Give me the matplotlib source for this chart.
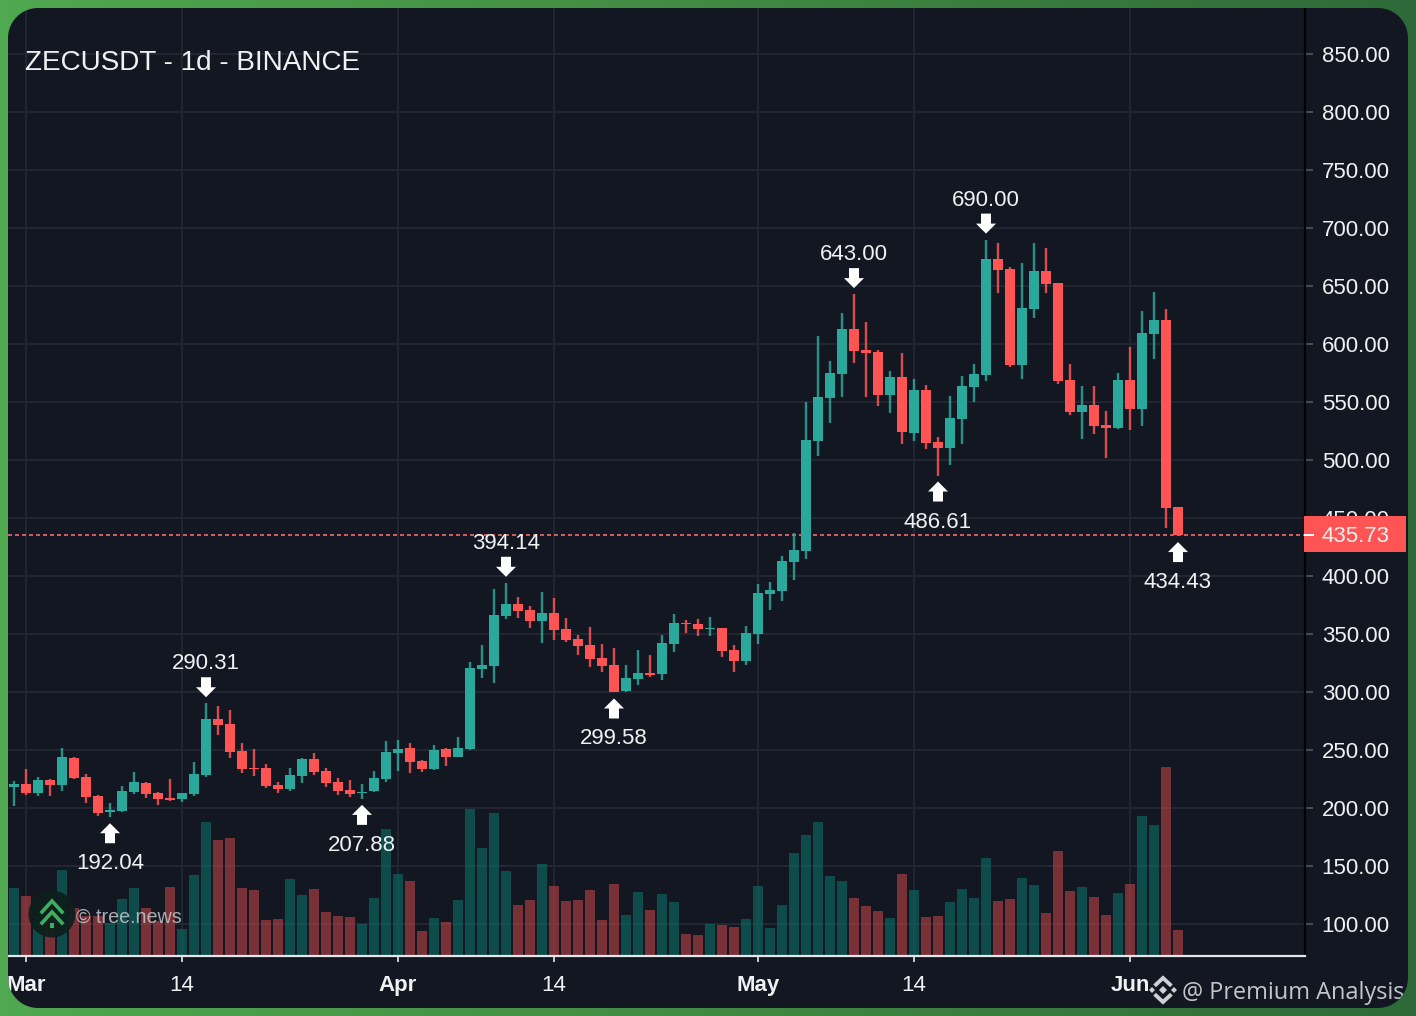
import numpy as np
import matplotlib
matplotlib.use("Agg")
import matplotlib.pyplot as plt
from matplotlib.path import Path
from matplotlib.patches import PathPatch, Rectangle, Circle, Polygon
from matplotlib.transforms import Affine2D, blended_transform_factory
from matplotlib.colors import LinearSegmentedColormap

plt.rcParams['font.family'] = ['Liberation Sans', 'DejaVu Sans']

TITLE = "ZECUSDT - 1d - BINANCE"
opens = [218.4,220.4,212.6,224.1,219.5,242.8,226.7,210.3,196.3,197.1,213.5,221.8,212.6,208.3,207.5,212.1,228.4,276.4,272.1,249.2,
         234.5,234.2,219.8,216.1,227.9,242.0,231.9,222.1,215.2,213.2,214.7,225.0,247.7,251.5,240.2,233.6,250.6,244.3,250.9,319.8,
         322.4,365.5,375.9,370.4,361.2,368.1,354.3,345.7,340.2,329.3,323.3,300.6,311.2,316.7,315.5,341.4,359.8,358.6,354.3,354.9,
         335.9,326.7,350.0,384.5,387.1,412.1,421.8,516.7,553.4,574.1,612.9,594.5,593.1,556.0,571.5,523.3,560.3,515.5,510.3,535.3,
         562.9,573.3,673.3,664.7,582.2,630.2,662.7,652.6,569.0,541.4,547.1,529.9,527.6,568.7,544.0,608.6,620.7,459.2]
highs = [223.6,233.3,226.4,224.7,251.5,244.0,229.3,211.2,204.0,219.0,231.0,222.1,214.1,225.3,213.2,239.7,290.31,288.0,284.8,256.3,
         250.9,237.7,222.7,234.2,242.8,247.1,234.2,225.6,224.1,220.4,232.2,257.8,258.6,256.3,241.4,254.0,251.5,261.0,325.6,340.5,
         389.1,394.14,381.6,374.1,385.9,381.3,363.8,348.9,356.3,341.1,337.9,323.3,336.2,331.9,349.4,367.3,362.1,362.9,364.7,354.9,
         340.2,356.9,392.8,395.1,417.3,436.8,549.7,606.9,585.1,626.4,643.00,618.7,594.8,577.0,592.2,569.8,564.4,520.1,555.2,572.1,
         582.8,690.00,687.4,666.1,669.6,687.4,682.5,652.6,582.8,563.8,563.8,542.2,575.3,597.7,628.7,644.8,630.2,459.2]
lows = [202.0,211.2,210.3,210.3,215.0,225.3,204.0,193.4,192.04,196.5,211.8,208.9,202.3,206.0,205.2,210.3,227.0,263.0,243.1,229.9,
        227.6,217.5,212.6,214.7,221.6,228.4,218.1,210.9,209.2,207.88,213.8,222.1,231.9,229.9,231.0,232.8,235.9,243.7,250.0,312.1,
        307.5,362.7,363.5,354.9,342.0,344.8,342.8,331.9,321.3,317.2,299.58,300.0,305.7,312.6,310.3,334.2,350.6,348.0,348.0,330.2,
        317.2,323.0,341.1,370.7,378.2,396.6,414.6,503.4,531.9,554.0,583.3,554.0,546.8,540.2,513.8,516.1,509.8,486.61,495.4,514.1,
        549.7,567.8,643.7,580.4,569.5,622.4,643.7,565.8,539.1,518.1,522.4,501.4,526.4,525.6,529.6,587.1,441.4,434.43]
closes = [220.7,212.6,224.1,219.8,244.0,226.2,209.5,196.0,198.0,214.4,222.1,212.1,207.8,207.2,212.6,229.0,276.7,271.6,248.6,233.3,
          233.3,219.0,216.4,228.2,242.2,230.8,221.6,214.7,211.8,213.8,225.6,248.0,251.2,239.7,233.9,250.3,244.0,251.5,320.4,323.3,
          366.1,375.9,369.8,361.2,368.1,353.5,344.5,339.7,328.5,322.1,300.0,312.1,316.4,315.0,341.9,359.5,358.3,354.3,355.2,335.6,
          326.7,350.6,385.1,387.9,413.0,422.1,517.0,554.0,575.0,612.9,594.0,592.5,556.0,571.5,524.1,560.3,514.6,510.3,536.2,563.8,
          574.1,673.3,663.8,581.9,630.7,662.7,651.7,567.8,541.4,547.1,529.3,527.6,568.7,544.0,609.5,620.7,458.6,435.73]
volumes = [68,60,40,42,86,48,40,40,33,57,68,48,35,69,27,81,134,116,118,68,
           66,36,37,77,61,67,44,40,39,32,58,127,82,75,25,38,34,56,147,108,
           143,85,51,56,92,70,55,56,66,36,72,41,64,46,62,54,22,21,32,31,
           29,37,70,28,51,103,121,134,80,75,58,50,45,38,82,66,39,40,54,67,
           58,98,55,57,78,71,43,105,65,69,59,41,63,72,140,131,189,26]
price_ticks = [100,150,200,250,300,350,400,450,500,550,600,650,700,750,800,850]
date_ticks = [1,14,32,45,62,75,93]
date_labels = ["Mar","14","Apr","14","May","14","Jun"]
high_marks = [16,41,70,81]
low_marks = [8,29,50,77,97]
last_price = 435.73

BG = "#131722"; GRID = "#232733"; UP = "#2aa89b"; DOWN = "#FF5454"; TXT = "#F0F1F3"
W, H = 1416, 1016
fig = plt.figure(figsize=(W/100, H/100), dpi=100, facecolor=BG)
L, R, T, B = 8, 1305, 8, 956
pos = [L/W, 1-B/H, (R-L)/W, (B-T)/H]
PX = 1.16
xlim = ((L-14)/12, (R-14)/12)
ylim = (850-(B-54)/PX, 850+(54-T)/PX)

ax_grid = fig.add_axes(pos, zorder=0, facecolor=BG)
ax_vol = fig.add_axes(pos, zorder=1, facecolor="none")
ax = fig.add_axes(pos, zorder=2, facecolor="none")
for a in (ax_grid, ax_vol, ax):
    a.set_xlim(*xlim)
ax_grid.set_ylim(*ylim); ax.set_ylim(*ylim); ax_vol.set_ylim(0, B-T)

ax_grid.set_xticks(date_ticks); ax_grid.set_yticks(price_ticks)
ax_grid.grid(True, color=GRID, lw=1.4)
ax_grid.tick_params(length=0, labelbottom=False, labelleft=False)
for s in ax_grid.spines.values(): s.set_visible(False)
ax_vol.axis("off")

x = np.arange(len(opens))
o, h, l, c = map(np.array, (opens, highs, lows, closes))
v = np.array(volumes)
up = c >= o
bw = 10/12
ax_vol.bar(x[up], v[up], width=bw, color="#0b6f68", alpha=0.6, lw=0)
ax_vol.bar(x[~up], v[~up], width=bw, color="#bf4447", alpha=0.6, lw=0)

ax.vlines(x[up], l[up], h[up], color=UP, lw=1.7, alpha=0.85, zorder=3)
ax.vlines(x[~up], l[~up], h[~up], color=DOWN, lw=1.7, alpha=0.85, zorder=3)
ax.bar(x[up], (c-o)[up], bottom=o[up], width=bw, color=UP, lw=0, zorder=4)
ax.bar(x[~up], (o-c)[~up], bottom=c[~up], width=bw, color=DOWN, lw=0, zorder=4)

ax.axhline(last_price, color="#F56A68", lw=1.2, linestyle=(0, (2.4, 1.8)), zorder=2.5)

# axes dressing
ax.yaxis.tick_right()
ax.set_yticks(price_ticks)
ax.set_yticklabels([f"{t:.2f}" for t in price_ticks])
ax.set_xticks(date_ticks)
ax.set_xticklabels(date_labels)
ax.tick_params(axis="y", length=5.8, width=1.4, color="#4a4d55", labelcolor=TXT, labelsize=16, pad=6.2)
ax.tick_params(axis="x", length=4.5, width=1.3, color="#d8dade", labelcolor=TXT, labelsize=16, pad=9.4)
for lab, t in zip(ax.get_xticklabels(), date_labels):
    if not t.isdigit():
        lab.set_fontweight("bold")
for s in ("top", "left"):
    ax.spines[s].set_visible(False)
ax.spines["right"].set_color("#000000"); ax.spines["right"].set_linewidth(1.6)
ax.spines["bottom"].set_color("#e4e6ea"); ax.spines["bottom"].set_linewidth(1.6)

# price tag
yt = blended_transform_factory(ax.transAxes, ax.transData)
w_ax = R-L
ax.add_patch(Rectangle((-1/w_ax+1.0, last_price-17.5/PX), (1407-R)/w_ax, 36/PX, transform=yt, color=DOWN, lw=0, clip_on=False, zorder=6))
ax.plot([1.0, 8/w_ax+1.0], [last_price, last_price], transform=yt, color="#FFFFFF", lw=1.4, clip_on=False, zorder=7)
ax.text(1+17/w_ax, last_price+1/PX, f"{last_price:.2f}", transform=yt, color=TXT, fontsize=16, va="center_baseline", ha="left", clip_on=False, zorder=7)

# swing arrows + labels
def arrow(sign):
    pts = [(0,6),(10,16),(5,16),(5,26),(-5,26),(-5,16),(-10,16),(0,6)]
    return Path([(a, sign*b) for a, b in pts], closed=True)
fig.canvas.draw()
for i in high_marks:
    anchor = ax.transData.transform((i, h[i]))
    ax.add_patch(PathPatch(arrow(1), transform=Affine2D().translate(*anchor), fc="white", ec="none", zorder=8, clip_on=False))
    ax.annotate(f"{h[i]:.2f}", xy=(i, h[i]), xytext=(0, 42), textcoords="offset pixels", ha="center", va="center_baseline", color=TXT, fontsize=16, zorder=8)
for i in low_marks:
    anchor = ax.transData.transform((i, l[i]))
    ax.add_patch(PathPatch(arrow(-1), transform=Affine2D().translate(*anchor), fc="white", ec="none", zorder=8, clip_on=False))
    ax.annotate(f"{l[i]:.2f}", xy=(i, l[i]), xytext=(0, -44), textcoords="offset pixels", ha="center", va="center_baseline", color=TXT, fontsize=16, zorder=8)

# decoration layer in pixel coordinates
deco = fig.add_axes([0,0,1,1], zorder=3, facecolor="none")
deco.set_xlim(0, W); deco.set_ylim(H, 0); deco.axis("off")
deco.text(25, 60, TITLE, color=TXT, fontsize=20.1, va="center_baseline", ha="left")
deco.add_patch(Circle((52, 914), 23.5, color="#0d1f1c", lw=0, alpha=0.92))
for dy in (0, 11):
    deco.plot([42, 52, 62], [912+dy, 901+dy, 912+dy], color="#3fae5f", lw=2.6, solid_joinstyle="miter")
deco.add_patch(Rectangle((50, 923), 4, 5, color="#3fae5f", lw=0))
deco.text(76, 915, "© tree.news", color="#c3c6cb", alpha=0.85, fontsize=14.2, va="center_baseline", ha="left")
cx, cy = 1163, 990
grey = "#cfd0d4"
def dia(x0, y0, r):
    deco.add_patch(Polygon([(x0, y0-r), (x0+r, y0), (x0, y0+r), (x0-r, y0)], closed=True, color=grey, lw=0))
dia(cx, cy, 4); dia(cx-11, cy, 3); dia(cx+11, cy, 3)
for sy in (-1, 1):
    deco.plot([cx-7, cx, cx+7], [cy+sy*5.5, cy+sy*12, cy+sy*5.5], color=grey, lw=2.8, solid_joinstyle="miter")
deco.text(1182, 990, "@ Premium Analysis", family="Open Sans", color="#c4c6c9", fontsize=16.9, va="center_baseline", ha="left")

# green frame, painted over everything
border = fig.add_axes([0,0,1,1], zorder=10, facecolor="none")
border.set_xlim(0, W); border.set_ylim(H, 0); border.axis("off")
cmap = LinearSegmentedColormap.from_list("frame", ["#50a850", "#418a42", "#2e6a39"])
im = border.imshow(np.linspace(0, 1, 256)[None, :], extent=(0, W, H, 0), aspect="auto", cmap=cmap)
rad = 30
def corner(xc, yc, a0):
    t = np.radians(np.linspace(a0, a0+90, 16))
    return np.c_[xc+rad*np.cos(t), yc+rad*np.sin(t)]
inner = np.vstack([corner(1408-rad, 8+rad, -90), corner(1408-rad, 1008-rad, 0), corner(8+rad, 1008-rad, 90), corner(8+rad, 8+rad, 180)])
outer = np.array([(0,0),(0,H),(W,H),(W,0)], float)
verts = np.vstack([outer, outer[:1], inner, inner[:1]])
codes = [Path.MOVETO]+[Path.LINETO]*3+[Path.CLOSEPOLY]+[Path.MOVETO]+[Path.LINETO]*(len(inner)-1)+[Path.CLOSEPOLY]
clip = PathPatch(Path(verts, codes), transform=border.transData, fc="none", ec="none")
border.add_patch(clip)
im.set_clip_path(clip)

fig.savefig("out.png", dpi=100, facecolor=BG)
